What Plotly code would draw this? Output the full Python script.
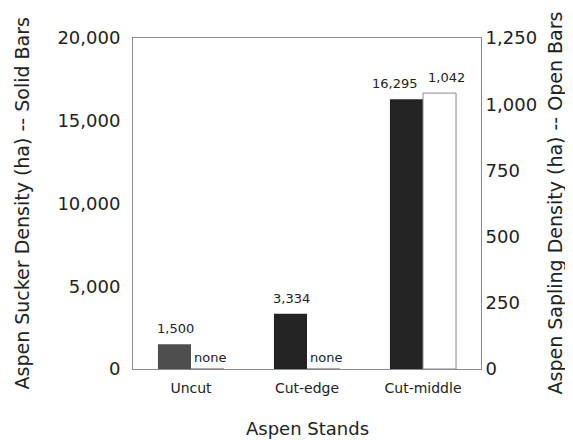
import plotly.graph_objects as go

stands = ["Uncut", "Cut-edge", "Cut-middle"]
sucker_density = [1500, 3334, 16295]
sapling_density = [0, 0, 1042]
sucker_labels = ["1,500", "3,334", "16,295"]
sapling_labels = ["none", "none", "1,042"]
solid_colors = ["#4e4e4e", "#232323", "#232323"]

# small label nudges (px) so adjacent labels do not collide, as in the reference
sucker_label_dx = [1, 1, -12]
sapling_label_dx = [2, 2, 7]
sapling_label_dy = [2, 2, 6]

font = "DejaVu Sans, Liberation Sans, sans-serif"
bar_half = 16.5

fig = go.Figure()
fig.add_trace(go.Bar(
    x=stands, y=sucker_density, yaxis="y", offsetgroup="solid",
    marker=dict(color=solid_colors, line=dict(width=0)),
))
fig.add_trace(go.Bar(
    x=stands, y=sapling_density, yaxis="y2", offsetgroup="open",
    marker=dict(color="white", line=dict(color="#8a8a8a", width=1)),
))

annotations = []
for s, v, t, dx in zip(stands, sucker_density, sucker_labels, sucker_label_dx):
    annotations.append(dict(x=s, y=v, xref="x", yref="y", text=t, showarrow=False,
                            xanchor="center", yanchor="bottom",
                            xshift=-bar_half + dx, yshift=6,
                            font=dict(family=font, size=13, color="#222")))
for s, v, t, dx, dy in zip(stands, sapling_density, sapling_labels, sapling_label_dx, sapling_label_dy):
    annotations.append(dict(x=s, y=v, xref="x", yref="y2", text=t, showarrow=False,
                            xanchor="center", yanchor="bottom",
                            xshift=bar_half + dx, yshift=dy,
                            font=dict(family=font, size=13, color="#222")))

# axis titles
annotations += [
    dict(text="Aspen Sucker Density (ha) -- Solid Bars", xref="paper", yref="paper",
         x=0, y=0.5, xshift=-112, textangle=-90, showarrow=False,
         xanchor="center", yanchor="middle", font=dict(family=font, size=19, color="#222")),
    dict(text="Aspen Sapling Density (ha) -- Open Bars", xref="paper", yref="paper",
         x=1, y=0.5, xshift=73, textangle=-90, showarrow=False,
         xanchor="center", yanchor="middle", font=dict(family=font, size=19, color="#222")),
    dict(text="Aspen Stands", xref="paper", yref="paper",
         x=0.5, y=0, yshift=-59, showarrow=False,
         xanchor="center", yanchor="middle", font=dict(family=font, size=18, color="#222")),
]

fig.update_layout(
    width=565, height=432,
    margin=dict(l=125, r=92, t=30, b=71, autoexpand=False),
    paper_bgcolor="white", plot_bgcolor="white",
    showlegend=False, barmode="group", bargap=0.43, bargroupgap=0,
    font=dict(family=font, color="#222"),
    annotations=annotations,
    xaxis=dict(
        tickfont=dict(size=14), showline=True, linecolor="#8a8a8a", mirror=True,
        ticks="", ticklabelstandoff=6, range=[-0.5, 2.5], automargin=False,
    ),
    yaxis=dict(
        range=[0, 20000], tickvals=[0, 5000, 10000, 15000, 20000],
        ticktext=["0", "5,000", "10,000", "15,000", "20,000"],
        tickfont=dict(size=18), showgrid=False, zeroline=False, automargin=False,
        showline=True, linecolor="#8a8a8a", ticks="", ticklabelstandoff=8,
    ),
    yaxis2=dict(
        overlaying="y", side="right", automargin=False,
        range=[0, 1250], tickvals=[0, 250, 500, 750, 1000, 1250],
        ticktext=["0", "250", "500", "750", "1,000", "1,250"],
        tickfont=dict(size=18), showgrid=False, zeroline=False,
        showline=True, linecolor="#8a8a8a", ticks="",
    ),
)

fig.write_html("out.html")
